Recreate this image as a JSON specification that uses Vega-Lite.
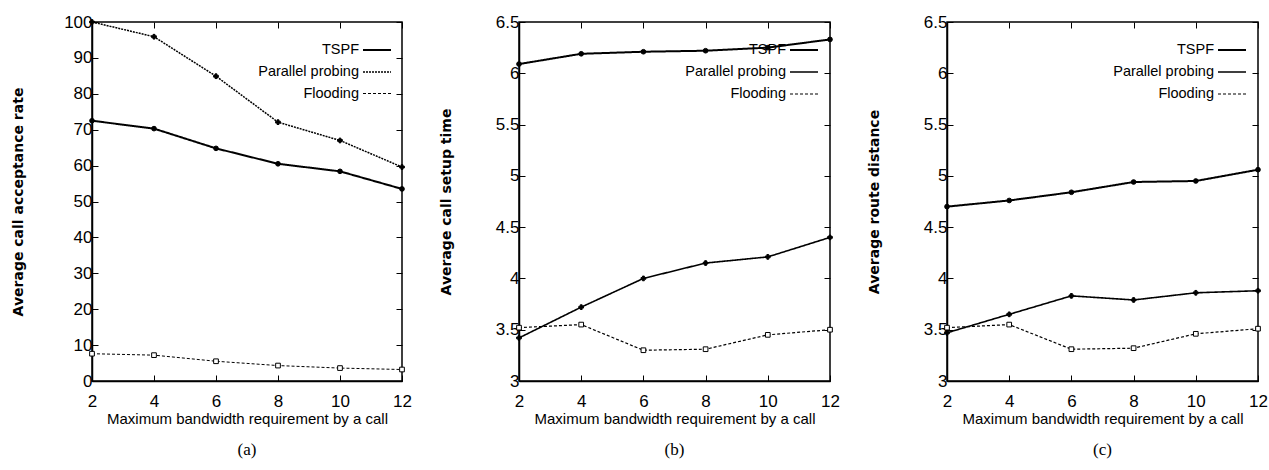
{
  "$schema": "https://vega.github.io/schema/vega-lite/v6.json",
  "background": "white",
  "padding": {"left": 10, "top": 12, "right": 5, "bottom": 5},
  "datasets": {
    "d": [
      {"panel": "a", "series": "TSPF", "x": 2, "y": 72.5},
      {"panel": "a", "series": "TSPF", "x": 4, "y": 70.3},
      {"panel": "a", "series": "TSPF", "x": 6, "y": 64.8},
      {"panel": "a", "series": "TSPF", "x": 8, "y": 60.5},
      {"panel": "a", "series": "TSPF", "x": 10, "y": 58.4},
      {"panel": "a", "series": "TSPF", "x": 12, "y": 53.5},
      {"panel": "a", "series": "Parallel probing", "x": 2, "y": 100},
      {"panel": "a", "series": "Parallel probing", "x": 4, "y": 95.9},
      {"panel": "a", "series": "Parallel probing", "x": 6, "y": 84.9},
      {"panel": "a", "series": "Parallel probing", "x": 8, "y": 72.1},
      {"panel": "a", "series": "Parallel probing", "x": 10, "y": 67.0},
      {"panel": "a", "series": "Parallel probing", "x": 12, "y": 59.6},
      {"panel": "a", "series": "Flooding", "x": 2, "y": 7.6},
      {"panel": "a", "series": "Flooding", "x": 4, "y": 7.2},
      {"panel": "a", "series": "Flooding", "x": 6, "y": 5.5},
      {"panel": "a", "series": "Flooding", "x": 8, "y": 4.3},
      {"panel": "a", "series": "Flooding", "x": 10, "y": 3.6},
      {"panel": "a", "series": "Flooding", "x": 12, "y": 3.2},
      {"panel": "b", "series": "TSPF", "x": 2, "y": 6.09},
      {"panel": "b", "series": "TSPF", "x": 4, "y": 6.19},
      {"panel": "b", "series": "TSPF", "x": 6, "y": 6.21},
      {"panel": "b", "series": "TSPF", "x": 8, "y": 6.22},
      {"panel": "b", "series": "TSPF", "x": 10, "y": 6.25},
      {"panel": "b", "series": "TSPF", "x": 12, "y": 6.33},
      {"panel": "b", "series": "Parallel probing", "x": 2, "y": 3.42},
      {"panel": "b", "series": "Parallel probing", "x": 4, "y": 3.72},
      {"panel": "b", "series": "Parallel probing", "x": 6, "y": 4.0},
      {"panel": "b", "series": "Parallel probing", "x": 8, "y": 4.15},
      {"panel": "b", "series": "Parallel probing", "x": 10, "y": 4.21},
      {"panel": "b", "series": "Parallel probing", "x": 12, "y": 4.4},
      {"panel": "b", "series": "Flooding", "x": 2, "y": 3.52},
      {"panel": "b", "series": "Flooding", "x": 4, "y": 3.55},
      {"panel": "b", "series": "Flooding", "x": 6, "y": 3.3},
      {"panel": "b", "series": "Flooding", "x": 8, "y": 3.31},
      {"panel": "b", "series": "Flooding", "x": 10, "y": 3.45},
      {"panel": "b", "series": "Flooding", "x": 12, "y": 3.5},
      {"panel": "c", "series": "TSPF", "x": 2, "y": 4.7},
      {"panel": "c", "series": "TSPF", "x": 4, "y": 4.76},
      {"panel": "c", "series": "TSPF", "x": 6, "y": 4.84},
      {"panel": "c", "series": "TSPF", "x": 8, "y": 4.94},
      {"panel": "c", "series": "TSPF", "x": 10, "y": 4.95},
      {"panel": "c", "series": "TSPF", "x": 12, "y": 5.06},
      {"panel": "c", "series": "Parallel probing", "x": 2, "y": 3.47},
      {"panel": "c", "series": "Parallel probing", "x": 4, "y": 3.65},
      {"panel": "c", "series": "Parallel probing", "x": 6, "y": 3.83},
      {"panel": "c", "series": "Parallel probing", "x": 8, "y": 3.79},
      {"panel": "c", "series": "Parallel probing", "x": 10, "y": 3.86},
      {"panel": "c", "series": "Parallel probing", "x": 12, "y": 3.88},
      {"panel": "c", "series": "Flooding", "x": 2, "y": 3.52},
      {"panel": "c", "series": "Flooding", "x": 4, "y": 3.55},
      {"panel": "c", "series": "Flooding", "x": 6, "y": 3.31},
      {"panel": "c", "series": "Flooding", "x": 8, "y": 3.32},
      {"panel": "c", "series": "Flooding", "x": 10, "y": 3.46},
      {"panel": "c", "series": "Flooding", "x": 12, "y": 3.51}
    ]
  },
  "config": {
    "view": {"stroke": "black", "strokeWidth": 1.5},
    "axis": {
      "grid": false,
      "domainColor": "black",
      "domainWidth": 1.5,
      "tickColor": "black",
      "tickSize": -6,
      "labelColor": "black",
      "labelFont": "Liberation Sans Narrow, Liberation Sans, sans-serif",
      "labelFontSize": 17,
      "labelFontWeight": "normal",
      "labelFlush": false,
      "labelOverlap": false,
      "titleColor": "black"
    },
    "axisX": {
      "labelPadding": 18,
      "titleFont": "Liberation Sans Narrow, Liberation Sans, sans-serif",
      "titleFontSize": 15,
      "titleFontWeight": "normal",
      "titlePadding": 2
    },
    "axisY": {
      "labelPadding": 6,
      "titleFont": "DejaVu Sans",
      "titleFontSize": 14,
      "titleFontWeight": "bold",
      "titlePadding": 42
    },
    "legend": {
      "orient": "none",
      "legendX": 270,
      "legendY": 13,
      "padding": 0,
      "labelFont": "Liberation Sans Narrow, Liberation Sans, sans-serif",
      "labelFontSize": 14.5,
      "labelColor": "black",
      "labelAlign": "right",
      "labelOffset": -33,
      "symbolType": "stroke",
      "symbolSize": 784,
      "symbolStrokeColor": "black",
      "rowPadding": -3
    },
    "title": {
      "orient": "bottom",
      "anchor": "middle",
      "font": "Liberation Serif",
      "fontSize": 17,
      "fontWeight": "normal",
      "color": "black",
      "offset": 16
    }
  },
  "bounds": "flush",
  "spacing": 117,
  "resolve": {"scale": {"strokeDash": "independent", "strokeWidth": "independent"}},
  "hconcat": [
    {
      "width": 310,
      "height": 359,
      "title": "(a)",
      "data": {"name": "d"},
      "transform": [{"filter": "datum.panel === 'a'"}],
      "resolve": {"scale": {"x": "independent", "y": "independent"}},
      "layer": [
        {
          "mark": {"type": "line", "color": "black"},
          "encoding": {
            "x": {"field": "x", "type": "quantitative", "scale": {"domain": [2, 12], "nice": false, "zero": false}, "axis": {"values": [2, 4, 6, 8, 10, 12], "title": "Maximum bandwidth requirement by a call"}},
            "y": {"field": "y", "type": "quantitative", "scale": {"domain": [0, 100], "nice": false, "zero": false}, "axis": {"values": [0, 10, 20, 30, 40, 50, 60, 70, 80, 90, 100], "title": "Average call acceptance rate", "titlePadding": 38}},
            "strokeDash": {"field": "series", "type": "nominal", "title": null, "scale": {"domain": ["TSPF", "Parallel probing", "Flooding"], "range": [[1, 0], [2, 1], [3, 2]]}},
            "strokeWidth": {"field": "series", "type": "nominal", "title": null, "scale": {"domain": ["TSPF", "Parallel probing", "Flooding"], "range": [2, 1, 1]}}
          }
        },
        {
          "mark": {"type": "point", "stroke": "black", "strokeWidth": 1, "size": 22, "opacity": 1},
          "encoding": {
            "x": {"field": "x", "type": "quantitative", "scale": {"domain": [2, 12], "nice": false, "zero": false}, "axis": {"orient": "top", "values": [2, 4, 6, 8, 10, 12], "labels": false, "title": null, "domain": false}},
            "y": {"field": "y", "type": "quantitative", "scale": {"domain": [0, 100], "nice": false, "zero": false}, "axis": {"orient": "right", "values": [0, 10, 20, 30, 40, 50, 60, 70, 80, 90, 100], "labels": false, "title": null, "domain": false}},
            "shape": {"condition": [{"test": "datum.series === 'TSPF'", "value": "circle"}, {"test": "datum.series === 'Flooding'", "value": "square"}], "value": "cross"},
            "fill": {"condition": {"test": "datum.series === 'Flooding'", "value": "white"}, "value": "black"}
          }
        }
      ]
    },
    {
      "width": 311,
      "height": 359,
      "title": "(b)",
      "data": {"name": "d"},
      "transform": [{"filter": "datum.panel === 'b'"}],
      "resolve": {"scale": {"x": "independent", "y": "independent"}},
      "layer": [
        {
          "mark": {"type": "line", "color": "black"},
          "encoding": {
            "x": {"field": "x", "type": "quantitative", "scale": {"domain": [2, 12], "nice": false, "zero": false}, "axis": {"values": [2, 4, 6, 8, 10, 12], "title": "Maximum bandwidth requirement by a call"}},
            "y": {"field": "y", "type": "quantitative", "scale": {"domain": [3, 6.5], "nice": false, "zero": false}, "axis": {"values": [3, 3.5, 4, 4.5, 5, 5.5, 6, 6.5], "format": "~g", "title": "Average call setup time"}},
            "strokeDash": {"field": "series", "type": "nominal", "title": null, "scale": {"domain": ["TSPF", "Parallel probing", "Flooding"], "range": [[1, 0], [1, 0], [3, 2]]}},
            "strokeWidth": {"field": "series", "type": "nominal", "title": null, "scale": {"domain": ["TSPF", "Parallel probing", "Flooding"], "range": [2, 1.2, 1]}}
          }
        },
        {
          "mark": {"type": "point", "stroke": "black", "strokeWidth": 1, "size": 22, "opacity": 1},
          "encoding": {
            "x": {"field": "x", "type": "quantitative", "scale": {"domain": [2, 12], "nice": false, "zero": false}, "axis": {"orient": "top", "values": [2, 4, 6, 8, 10, 12], "labels": false, "title": null, "domain": false}},
            "y": {"field": "y", "type": "quantitative", "scale": {"domain": [3, 6.5], "nice": false, "zero": false}, "axis": {"orient": "right", "values": [3, 3.5, 4, 4.5, 5, 5.5, 6, 6.5], "labels": false, "title": null, "domain": false}},
            "shape": {"condition": [{"test": "datum.series === 'TSPF'", "value": "circle"}, {"test": "datum.series === 'Flooding'", "value": "square"}], "value": "cross"},
            "fill": {"condition": {"test": "datum.series === 'Flooding'", "value": "white"}, "value": "black"}
          }
        }
      ]
    },
    {
      "width": 311,
      "height": 359,
      "title": "(c)",
      "data": {"name": "d"},
      "transform": [{"filter": "datum.panel === 'c'"}],
      "resolve": {"scale": {"x": "independent", "y": "independent"}},
      "layer": [
        {
          "mark": {"type": "line", "color": "black"},
          "encoding": {
            "x": {"field": "x", "type": "quantitative", "scale": {"domain": [2, 12], "nice": false, "zero": false}, "axis": {"values": [2, 4, 6, 8, 10, 12], "title": "Maximum bandwidth requirement by a call"}},
            "y": {"field": "y", "type": "quantitative", "scale": {"domain": [3, 6.5], "nice": false, "zero": false}, "axis": {"values": [3, 3.5, 4, 4.5, 5, 5.5, 6, 6.5], "format": "~g", "title": "Average route distance"}},
            "strokeDash": {"field": "series", "type": "nominal", "title": null, "scale": {"domain": ["TSPF", "Parallel probing", "Flooding"], "range": [[1, 0], [1, 0], [3, 2]]}},
            "strokeWidth": {"field": "series", "type": "nominal", "title": null, "scale": {"domain": ["TSPF", "Parallel probing", "Flooding"], "range": [2, 1.2, 1]}}
          }
        },
        {
          "mark": {"type": "point", "stroke": "black", "strokeWidth": 1, "size": 22, "opacity": 1},
          "encoding": {
            "x": {"field": "x", "type": "quantitative", "scale": {"domain": [2, 12], "nice": false, "zero": false}, "axis": {"orient": "top", "values": [2, 4, 6, 8, 10, 12], "labels": false, "title": null, "domain": false}},
            "y": {"field": "y", "type": "quantitative", "scale": {"domain": [3, 6.5], "nice": false, "zero": false}, "axis": {"orient": "right", "values": [3, 3.5, 4, 4.5, 5, 5.5, 6, 6.5], "labels": false, "title": null, "domain": false}},
            "shape": {"condition": [{"test": "datum.series === 'TSPF'", "value": "circle"}, {"test": "datum.series === 'Flooding'", "value": "square"}], "value": "cross"},
            "fill": {"condition": {"test": "datum.series === 'Flooding'", "value": "white"}, "value": "black"}
          }
        }
      ]
    }
  ]
}
